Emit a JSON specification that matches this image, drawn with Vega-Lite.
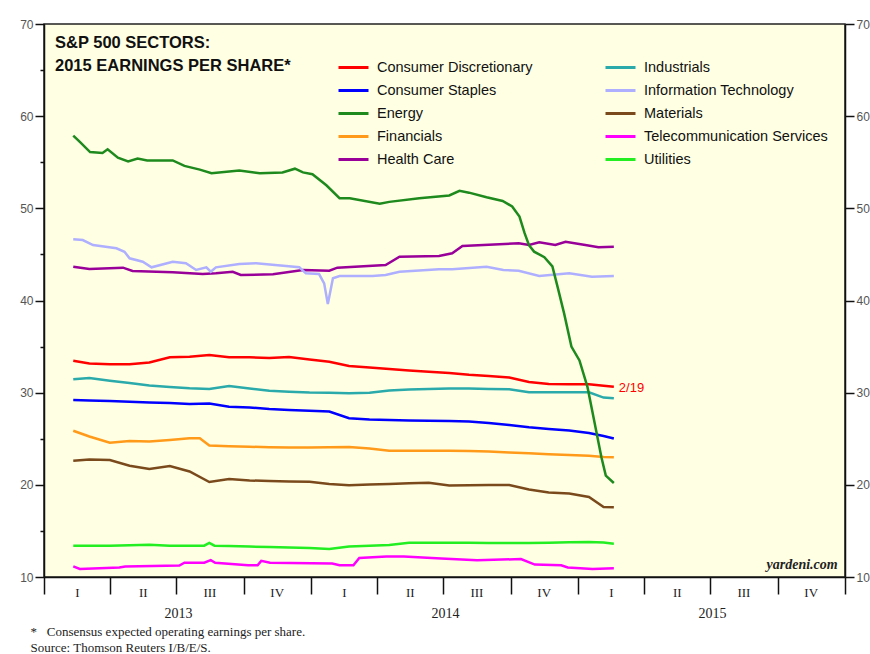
{
"$schema":"https://vega.github.io/schema/vega-lite/v6.json",
"width":801,"height":553,
"autosize":{"type":"none"},
"padding":{"left":44,"top":24,"right":25,"bottom":77},
"background":"white",
"config":{"view":{"fill":"#FFFFE3","stroke":"#222","strokeWidth":1.5},"font":"Liberation Sans","axis":{"grid":false}},
"title":{"text":["S&P 500 SECTORS:","2015 EARNINGS PER SHARE*"],"anchor":"start","frame":"group","orient":"top","font":"Liberation Sans","fontSize":16.5,"fontWeight":"bold","color":"#111","lineHeight":23,"dx":11,"dy":56,"offset":0},
"data":{"values":[
{"s":"Consumer Discretionary","d":"2013-02-10","v":33.47},{"s":"Consumer Discretionary","d":"2013-03-04","v":33.16},{"s":"Consumer Discretionary","d":"2013-04-01","v":33.09},{"s":"Consumer Discretionary","d":"2013-04-28","v":33.08},{"s":"Consumer Discretionary","d":"2013-05-25","v":33.27},{"s":"Consumer Discretionary","d":"2013-06-22","v":33.85},{"s":"Consumer Discretionary","d":"2013-07-19","v":33.89},{"s":"Consumer Discretionary","d":"2013-08-15","v":34.09},{"s":"Consumer Discretionary","d":"2013-09-11","v":33.84},{"s":"Consumer Discretionary","d":"2013-10-09","v":33.84},{"s":"Consumer Discretionary","d":"2013-11-05","v":33.76},{"s":"Consumer Discretionary","d":"2013-12-02","v":33.87},{"s":"Consumer Discretionary","d":"2013-12-30","v":33.6},{"s":"Consumer Discretionary","d":"2014-01-26","v":33.36},{"s":"Consumer Discretionary","d":"2014-02-22","v":32.89},{"s":"Consumer Discretionary","d":"2014-03-22","v":32.73},{"s":"Consumer Discretionary","d":"2014-04-18","v":32.57},{"s":"Consumer Discretionary","d":"2014-05-15","v":32.4},{"s":"Consumer Discretionary","d":"2014-06-11","v":32.27},{"s":"Consumer Discretionary","d":"2014-07-09","v":32.13},{"s":"Consumer Discretionary","d":"2014-08-05","v":31.94},{"s":"Consumer Discretionary","d":"2014-09-01","v":31.81},{"s":"Consumer Discretionary","d":"2014-09-29","v":31.65},{"s":"Consumer Discretionary","d":"2014-10-26","v":31.16},{"s":"Consumer Discretionary","d":"2014-11-22","v":30.94},{"s":"Consumer Discretionary","d":"2014-12-20","v":30.91},{"s":"Consumer Discretionary","d":"2015-01-16","v":30.91},{"s":"Consumer Discretionary","d":"2015-02-05","v":30.75},{"s":"Consumer Discretionary","d":"2015-02-19","v":30.65},
{"s":"Industrials","d":"2013-02-10","v":31.45},{"s":"Industrials","d":"2013-03-04","v":31.59},{"s":"Industrials","d":"2013-04-01","v":31.3},{"s":"Industrials","d":"2013-04-28","v":31.05},{"s":"Industrials","d":"2013-05-25","v":30.78},{"s":"Industrials","d":"2013-06-22","v":30.61},{"s":"Industrials","d":"2013-07-19","v":30.47},{"s":"Industrials","d":"2013-08-15","v":30.4},{"s":"Industrials","d":"2013-09-11","v":30.72},{"s":"Industrials","d":"2013-10-09","v":30.45},{"s":"Industrials","d":"2013-11-05","v":30.2},{"s":"Industrials","d":"2013-12-02","v":30.1},{"s":"Industrials","d":"2013-12-30","v":30.02},{"s":"Industrials","d":"2014-01-26","v":30.0},{"s":"Industrials","d":"2014-02-22","v":29.94},{"s":"Industrials","d":"2014-03-22","v":29.98},{"s":"Industrials","d":"2014-04-18","v":30.23},{"s":"Industrials","d":"2014-05-15","v":30.34},{"s":"Industrials","d":"2014-06-11","v":30.4},{"s":"Industrials","d":"2014-07-09","v":30.45},{"s":"Industrials","d":"2014-08-05","v":30.45},{"s":"Industrials","d":"2014-09-01","v":30.4},{"s":"Industrials","d":"2014-09-29","v":30.36},{"s":"Industrials","d":"2014-10-26","v":30.04},{"s":"Industrials","d":"2014-11-22","v":30.04},{"s":"Industrials","d":"2014-12-20","v":30.04},{"s":"Industrials","d":"2015-01-16","v":30.04},{"s":"Industrials","d":"2015-02-05","v":29.47},{"s":"Industrials","d":"2015-02-19","v":29.39},
{"s":"Consumer Staples","d":"2013-02-10","v":29.2},{"s":"Consumer Staples","d":"2013-03-04","v":29.15},{"s":"Consumer Staples","d":"2013-04-01","v":29.1},{"s":"Consumer Staples","d":"2013-04-28","v":29.02},{"s":"Consumer Staples","d":"2013-05-25","v":28.93},{"s":"Consumer Staples","d":"2013-06-22","v":28.88},{"s":"Consumer Staples","d":"2013-07-19","v":28.77},{"s":"Consumer Staples","d":"2013-08-15","v":28.82},{"s":"Consumer Staples","d":"2013-09-11","v":28.48},{"s":"Consumer Staples","d":"2013-10-09","v":28.39},{"s":"Consumer Staples","d":"2013-11-05","v":28.23},{"s":"Consumer Staples","d":"2013-12-02","v":28.12},{"s":"Consumer Staples","d":"2013-12-30","v":28.04},{"s":"Consumer Staples","d":"2014-01-26","v":27.96},{"s":"Consumer Staples","d":"2014-02-22","v":27.22},{"s":"Consumer Staples","d":"2014-03-22","v":27.09},{"s":"Consumer Staples","d":"2014-04-18","v":27.03},{"s":"Consumer Staples","d":"2014-05-15","v":26.98},{"s":"Consumer Staples","d":"2014-06-11","v":26.95},{"s":"Consumer Staples","d":"2014-07-09","v":26.93},{"s":"Consumer Staples","d":"2014-08-05","v":26.87},{"s":"Consumer Staples","d":"2014-09-01","v":26.71},{"s":"Consumer Staples","d":"2014-09-29","v":26.49},{"s":"Consumer Staples","d":"2014-10-26","v":26.24},{"s":"Consumer Staples","d":"2014-11-22","v":26.06},{"s":"Consumer Staples","d":"2014-12-20","v":25.9},{"s":"Consumer Staples","d":"2015-01-16","v":25.63},{"s":"Consumer Staples","d":"2015-02-05","v":25.3},{"s":"Consumer Staples","d":"2015-02-19","v":25.03},
{"s":"Financials","d":"2013-02-10","v":25.87},{"s":"Financials","d":"2013-03-04","v":25.24},{"s":"Financials","d":"2013-04-01","v":24.57},{"s":"Financials","d":"2013-04-28","v":24.76},{"s":"Financials","d":"2013-05-25","v":24.7},{"s":"Financials","d":"2013-06-22","v":24.86},{"s":"Financials","d":"2013-07-19","v":25.05},{"s":"Financials","d":"2013-08-02","v":25.05},{"s":"Financials","d":"2013-08-15","v":24.27},{"s":"Financials","d":"2013-09-11","v":24.19},{"s":"Financials","d":"2013-10-09","v":24.13},{"s":"Financials","d":"2013-11-05","v":24.08},{"s":"Financials","d":"2013-12-02","v":24.04},{"s":"Financials","d":"2013-12-30","v":24.05},{"s":"Financials","d":"2014-01-26","v":24.07},{"s":"Financials","d":"2014-02-22","v":24.1},{"s":"Financials","d":"2014-03-22","v":23.94},{"s":"Financials","d":"2014-04-18","v":23.7},{"s":"Financials","d":"2014-05-15","v":23.7},{"s":"Financials","d":"2014-06-11","v":23.7},{"s":"Financials","d":"2014-07-09","v":23.7},{"s":"Financials","d":"2014-08-05","v":23.67},{"s":"Financials","d":"2014-09-01","v":23.62},{"s":"Financials","d":"2014-09-29","v":23.51},{"s":"Financials","d":"2014-10-26","v":23.42},{"s":"Financials","d":"2014-11-22","v":23.31},{"s":"Financials","d":"2014-12-20","v":23.24},{"s":"Financials","d":"2015-01-16","v":23.15},{"s":"Financials","d":"2015-02-05","v":23.02},{"s":"Financials","d":"2015-02-19","v":22.99},
{"s":"Materials","d":"2013-02-10","v":22.62},{"s":"Materials","d":"2013-03-04","v":22.75},{"s":"Materials","d":"2013-04-01","v":22.69},{"s":"Materials","d":"2013-04-28","v":22.07},{"s":"Materials","d":"2013-05-25","v":21.72},{"s":"Materials","d":"2013-06-22","v":22.04},{"s":"Materials","d":"2013-07-19","v":21.45},{"s":"Materials","d":"2013-08-15","v":20.3},{"s":"Materials","d":"2013-09-11","v":20.63},{"s":"Materials","d":"2013-10-09","v":20.47},{"s":"Materials","d":"2013-11-05","v":20.42},{"s":"Materials","d":"2013-12-02","v":20.36},{"s":"Materials","d":"2013-12-30","v":20.34},{"s":"Materials","d":"2014-01-26","v":20.09},{"s":"Materials","d":"2014-02-22","v":19.96},{"s":"Materials","d":"2014-03-22","v":20.04},{"s":"Materials","d":"2014-04-18","v":20.09},{"s":"Materials","d":"2014-05-15","v":20.17},{"s":"Materials","d":"2014-06-11","v":20.23},{"s":"Materials","d":"2014-07-09","v":19.93},{"s":"Materials","d":"2014-08-05","v":19.95},{"s":"Materials","d":"2014-09-01","v":19.98},{"s":"Materials","d":"2014-09-29","v":19.98},{"s":"Materials","d":"2014-10-26","v":19.49},{"s":"Materials","d":"2014-11-22","v":19.17},{"s":"Materials","d":"2014-12-20","v":19.06},{"s":"Materials","d":"2015-01-16","v":18.68},{"s":"Materials","d":"2015-02-05","v":17.6},{"s":"Materials","d":"2015-02-19","v":17.56},
{"s":"Utilities","d":"2013-02-10","v":13.4},{"s":"Utilities","d":"2013-03-04","v":13.4},{"s":"Utilities","d":"2013-04-01","v":13.4},{"s":"Utilities","d":"2013-04-28","v":13.45},{"s":"Utilities","d":"2013-05-25","v":13.5},{"s":"Utilities","d":"2013-06-22","v":13.4},{"s":"Utilities","d":"2013-07-19","v":13.4},{"s":"Utilities","d":"2013-08-08","v":13.4},{"s":"Utilities","d":"2013-08-15","v":13.7},{"s":"Utilities","d":"2013-08-22","v":13.4},{"s":"Utilities","d":"2013-09-11","v":13.35},{"s":"Utilities","d":"2013-10-09","v":13.3},{"s":"Utilities","d":"2013-11-05","v":13.25},{"s":"Utilities","d":"2013-12-02","v":13.2},{"s":"Utilities","d":"2013-12-30","v":13.14},{"s":"Utilities","d":"2014-01-26","v":13.05},{"s":"Utilities","d":"2014-02-22","v":13.32},{"s":"Utilities","d":"2014-03-22","v":13.39},{"s":"Utilities","d":"2014-04-18","v":13.46},{"s":"Utilities","d":"2014-05-15","v":13.72},{"s":"Utilities","d":"2014-06-11","v":13.72},{"s":"Utilities","d":"2014-07-09","v":13.72},{"s":"Utilities","d":"2014-08-05","v":13.72},{"s":"Utilities","d":"2014-09-01","v":13.7},{"s":"Utilities","d":"2014-09-29","v":13.68},{"s":"Utilities","d":"2014-10-26","v":13.68},{"s":"Utilities","d":"2014-11-22","v":13.72},{"s":"Utilities","d":"2014-12-20","v":13.77},{"s":"Utilities","d":"2015-01-16","v":13.79},{"s":"Utilities","d":"2015-02-05","v":13.73},{"s":"Utilities","d":"2015-02-19","v":13.6},
{"s":"Telecommunication Services","d":"2013-02-10","v":11.15},{"s":"Telecommunication Services","d":"2013-02-19","v":10.88},{"s":"Telecommunication Services","d":"2013-04-14","v":11.03},{"s":"Telecommunication Services","d":"2013-04-22","v":11.15},{"s":"Telecommunication Services","d":"2013-07-05","v":11.24},{"s":"Telecommunication Services","d":"2013-07-12","v":11.55},{"s":"Telecommunication Services","d":"2013-08-08","v":11.55},{"s":"Telecommunication Services","d":"2013-08-17","v":11.83},{"s":"Telecommunication Services","d":"2013-08-23","v":11.55},{"s":"Telecommunication Services","d":"2013-10-07","v":11.27},{"s":"Telecommunication Services","d":"2013-10-20","v":11.27},{"s":"Telecommunication Services","d":"2013-10-25","v":11.75},{"s":"Telecommunication Services","d":"2013-11-06","v":11.55},{"s":"Telecommunication Services","d":"2014-01-30","v":11.47},{"s":"Telecommunication Services","d":"2014-02-09","v":11.27},{"s":"Telecommunication Services","d":"2014-02-28","v":11.27},{"s":"Telecommunication Services","d":"2014-03-08","v":12.06},{"s":"Telecommunication Services","d":"2014-04-14","v":12.22},{"s":"Telecommunication Services","d":"2014-05-08","v":12.22},{"s":"Telecommunication Services","d":"2014-06-28","v":12.02},{"s":"Telecommunication Services","d":"2014-08-16","v":11.83},{"s":"Telecommunication Services","d":"2014-10-15","v":11.94},{"s":"Telecommunication Services","d":"2014-11-03","v":11.35},{"s":"Telecommunication Services","d":"2014-12-09","v":11.27},{"s":"Telecommunication Services","d":"2014-12-18","v":11.03},{"s":"Telecommunication Services","d":"2015-01-21","v":10.88},{"s":"Telecommunication Services","d":"2015-02-19","v":10.96},
{"s":"Health Care","d":"2013-02-10","v":43.67},{"s":"Health Care","d":"2013-03-04","v":43.42},{"s":"Health Care","d":"2013-04-19","v":43.56},{"s":"Health Care","d":"2013-05-02","v":43.2},{"s":"Health Care","d":"2013-06-26","v":43.06},{"s":"Health Care","d":"2013-08-06","v":42.87},{"s":"Health Care","d":"2013-08-24","v":42.95},{"s":"Health Care","d":"2013-09-16","v":43.12},{"s":"Health Care","d":"2013-09-27","v":42.77},{"s":"Health Care","d":"2013-11-10","v":42.84},{"s":"Health Care","d":"2013-12-21","v":43.31},{"s":"Health Care","d":"2014-01-26","v":43.23},{"s":"Health Care","d":"2014-02-06","v":43.56},{"s":"Health Care","d":"2014-04-13","v":43.85},{"s":"Health Care","d":"2014-05-02","v":44.75},{"s":"Health Care","d":"2014-06-25","v":44.83},{"s":"Health Care","d":"2014-07-13","v":45.12},{"s":"Health Care","d":"2014-07-27","v":45.91},{"s":"Health Care","d":"2014-10-12","v":46.2},{"s":"Health Care","d":"2014-10-26","v":46.02},{"s":"Health Care","d":"2014-11-09","v":46.31},{"s":"Health Care","d":"2014-12-01","v":46.02},{"s":"Health Care","d":"2014-12-15","v":46.38},{"s":"Health Care","d":"2015-01-11","v":46.02},{"s":"Health Care","d":"2015-01-29","v":45.77},{"s":"Health Care","d":"2015-02-19","v":45.84},
{"s":"Information Technology","d":"2013-02-10","v":46.64},{"s":"Information Technology","d":"2013-02-23","v":46.56},{"s":"Information Technology","d":"2013-03-09","v":46.02},{"s":"Information Technology","d":"2013-04-10","v":45.66},{"s":"Information Technology","d":"2013-04-21","v":45.29},{"s":"Information Technology","d":"2013-04-28","v":44.58},{"s":"Information Technology","d":"2013-05-16","v":44.21},{"s":"Information Technology","d":"2013-05-28","v":43.6},{"s":"Information Technology","d":"2013-06-26","v":44.21},{"s":"Information Technology","d":"2013-07-14","v":44.04},{"s":"Information Technology","d":"2013-07-28","v":43.31},{"s":"Information Technology","d":"2013-08-11","v":43.6},{"s":"Information Technology","d":"2013-08-17","v":43.12},{"s":"Information Technology","d":"2013-08-24","v":43.6},{"s":"Information Technology","d":"2013-09-25","v":43.96},{"s":"Information Technology","d":"2013-10-18","v":44.04},{"s":"Information Technology","d":"2013-12-16","v":43.6},{"s":"Information Technology","d":"2013-12-25","v":42.95},{"s":"Information Technology","d":"2014-01-12","v":42.87},{"s":"Information Technology","d":"2014-01-19","v":41.86},{"s":"Information Technology","d":"2014-01-24","v":39.62},{"s":"Information Technology","d":"2014-01-31","v":42.41},{"s":"Information Technology","d":"2014-02-09","v":42.66},{"s":"Information Technology","d":"2014-03-26","v":42.66},{"s":"Information Technology","d":"2014-04-13","v":42.77},{"s":"Information Technology","d":"2014-05-02","v":43.12},{"s":"Information Technology","d":"2014-06-25","v":43.38},{"s":"Information Technology","d":"2014-07-13","v":43.38},{"s":"Information Technology","d":"2014-08-29","v":43.67},{"s":"Information Technology","d":"2014-09-21","v":43.31},{"s":"Information Technology","d":"2014-10-12","v":43.23},{"s":"Information Technology","d":"2014-11-09","v":42.66},{"s":"Information Technology","d":"2014-12-20","v":42.95},{"s":"Information Technology","d":"2015-01-20","v":42.58},{"s":"Information Technology","d":"2015-02-19","v":42.66},
{"s":"Energy","d":"2013-02-10","v":57.9},{"s":"Energy","d":"2013-02-19","v":57.2},{"s":"Energy","d":"2013-03-05","v":56.1},{"s":"Energy","d":"2013-03-22","v":56.0},{"s":"Energy","d":"2013-03-29","v":56.4},{"s":"Energy","d":"2013-04-12","v":55.5},{"s":"Energy","d":"2013-04-26","v":55.1},{"s":"Energy","d":"2013-05-09","v":55.4},{"s":"Energy","d":"2013-05-22","v":55.2},{"s":"Energy","d":"2013-06-26","v":55.2},{"s":"Energy","d":"2013-07-12","v":54.6},{"s":"Energy","d":"2013-08-02","v":54.2},{"s":"Energy","d":"2013-08-18","v":53.8},{"s":"Energy","d":"2013-09-25","v":54.1},{"s":"Energy","d":"2013-10-23","v":53.8},{"s":"Energy","d":"2013-11-23","v":53.9},{"s":"Energy","d":"2013-12-10","v":54.3},{"s":"Energy","d":"2013-12-21","v":53.9},{"s":"Energy","d":"2014-01-03","v":53.7},{"s":"Energy","d":"2014-01-22","v":52.5},{"s":"Energy","d":"2014-02-09","v":51.1},{"s":"Energy","d":"2014-02-23","v":51.1},{"s":"Energy","d":"2014-04-05","v":50.5},{"s":"Energy","d":"2014-04-18","v":50.7},{"s":"Energy","d":"2014-05-29","v":51.1},{"s":"Energy","d":"2014-07-09","v":51.4},{"s":"Energy","d":"2014-07-23","v":51.9},{"s":"Energy","d":"2014-08-05","v":51.7},{"s":"Energy","d":"2014-08-29","v":51.2},{"s":"Energy","d":"2014-09-20","v":50.8},{"s":"Energy","d":"2014-10-03","v":50.2},{"s":"Energy","d":"2014-10-13","v":49.1},{"s":"Energy","d":"2014-10-20","v":47.3},{"s":"Energy","d":"2014-10-26","v":46.0},{"s":"Energy","d":"2014-11-02","v":45.3},{"s":"Energy","d":"2014-11-16","v":44.7},{"s":"Energy","d":"2014-11-27","v":43.7},{"s":"Energy","d":"2014-12-04","v":41.5},{"s":"Energy","d":"2014-12-13","v":38.6},{"s":"Energy","d":"2014-12-23","v":35.0},{"s":"Energy","d":"2015-01-03","v":33.5},{"s":"Energy","d":"2015-01-14","v":30.6},{"s":"Energy","d":"2015-01-23","v":27.0},{"s":"Energy","d":"2015-02-02","v":23.0},{"s":"Energy","d":"2015-02-08","v":21.0},{"s":"Energy","d":"2015-02-19","v":20.2}
]},
"layer":[
{"mark":{"type":"line","strokeWidth":2.5,"interpolate":"linear"},
 "encoding":{
  "x":{"field":"d","type":"temporal","scale":{"type":"utc","domain":[{"year":2013,"month":1,"date":1,"utc":true},{"year":2016,"month":1,"date":1,"utc":true}]},
   "axis":{"orient":"bottom","title":null,"values":[{"year":2013,"month":1,"date":1,"utc":true},{"year":2013,"month":4,"date":1,"utc":true},{"year":2013,"month":7,"date":1,"utc":true},{"year":2013,"month":10,"date":1,"utc":true},{"year":2014,"month":1,"date":1,"utc":true},{"year":2014,"month":4,"date":1,"utc":true},{"year":2014,"month":7,"date":1,"utc":true},{"year":2014,"month":10,"date":1,"utc":true},{"year":2015,"month":1,"date":1,"utc":true},{"year":2015,"month":4,"date":1,"utc":true},{"year":2015,"month":7,"date":1,"utc":true},{"year":2015,"month":10,"date":1,"utc":true},{"year":2016,"month":1,"date":1,"utc":true}],
    "labelExpr":"utcyear(datum.value)>2015 ? '' : (utcmonth(datum.value)==0 ? 'I' : utcmonth(datum.value)==3 ? 'II' : utcmonth(datum.value)==6 ? 'III' : 'IV')",
    "labelOffset":33,"labelFlush":false,"labelOverlap":false,"labelBound":false,"labelAlign":"center","labelBaseline":"top",
    "tickSize":17,"tickWidth":1.5,"tickColor":"#111","domainColor":"#111","domainWidth":1.5,"labelPadding":-8,
    "labelFont":"Liberation Serif","labelFontSize":13,"labelColor":"#222"}},
  "y":{"field":"v","type":"quantitative","scale":{"domain":[10,70]},
   "axis":{"orient":"left","title":null,"values":[10,20,30,40,50,60,70],"tickSize":9,"tickWidth":1.5,"tickColor":"#111","domainColor":"#111","domainWidth":1.5,"labelPadding":2,"labelFont":"Liberation Sans","labelFontSize":12,"labelColor":"#555"}},
  "color":{"field":"s","type":"nominal",
   "scale":{"domain":["Consumer Discretionary","Consumer Staples","Energy","Financials","Health Care","Industrials","Information Technology","Materials","Telecommunication Services","Utilities"],
    "range":["#FF0000","#0000FF","#1E8A1E","#FF9A1A","#990099","#2AAAAA","#AFAFFF","#7B4A1C","#FF00FF","#22EE22"]},
   "legend":{"orient":"none","legendX":293,"legendY":27,"columns":2,"direction":"vertical","title":null,"symbolType":"stroke","symbolSize":900,"symbolStrokeWidth":3,"labelFont":"Liberation Sans","labelFontSize":14.5,"labelColor":"#111","labelOffset":7,"rowPadding":-7,"columnPadding":66,"labelLimit":300}}
 }},
{"transform":[{"filter":"datum.s=='Consumer Discretionary' && datum.v==30.65"}],
 "mark":{"type":"text","text":"2/19","align":"left","baseline":"middle","dx":5,"dy":1,"color":"#FF0000","fontSize":13,"font":"Liberation Sans"},
 "encoding":{
  "x":{"field":"d","type":"temporal",
   "axis":{"orient":"bottom","values":[{"year":2013,"month":1,"date":1,"utc":true},{"year":2014,"month":1,"date":1,"utc":true},{"year":2015,"month":1,"date":1,"utc":true}],
    "labelExpr":"'' + utcyear(datum.value)","labelOffset":134,"labelFlush":false,"labelOverlap":false,"labelBound":false,"labelAlign":"center","labelBaseline":"top",
    "ticks":false,"tickSize":0,"domain":false,"labelPadding":29,"labelFont":"Liberation Serif","labelFontSize":14,"labelColor":"#222",
    "title":["*\u00a0\u00a0\u00a0Consensus expected operating earnings per share.","\u00a0\u00a0\u00a0\u00a0Source: Thomson Reuters I/B/E/S."],
    "titleX":-14,"titleY":48,"titleAlign":"left","titleAnchor":"start","titleBaseline":"top","titleFont":"Liberation Serif","titleFontSize":13,"titleFontWeight":"normal","titleColor":"#222","titleLineHeight":16}},
  "y":{"field":"v","type":"quantitative",
   "axis":{"orient":"right","title":null,"values":[10,20,30,40,50,60,70],"tickSize":9,"tickWidth":1.5,"tickColor":"#111","domainColor":"#111","domainWidth":1.5,"labelPadding":2,"labelFont":"Liberation Sans","labelFontSize":12,"labelColor":"#555"}}
 }},
{"data":{"values":[{"site":"yardeni.com"}]},
 "mark":{"type":"text","align":"right","baseline":"middle","font":"Liberation Serif","fontStyle":"italic","fontWeight":"bold","fontSize":14,"color":"#222"},
 "encoding":{
  "text":{"field":"site"},
  "x":{"datum":{"year":2015,"month":12,"date":22,"utc":true},"type":"temporal","axis":null},
  "y":{"datum":11.3,"type":"quantitative","axis":{"orient":"left","values":[15,25,35,45,55,65],"labels":false,"domain":false,"tickSize":4,"tickWidth":1.5,"tickColor":"#111","title":null}}
 }}
],
"resolve":{"axis":{"x":"independent","y":"independent"}}
}
